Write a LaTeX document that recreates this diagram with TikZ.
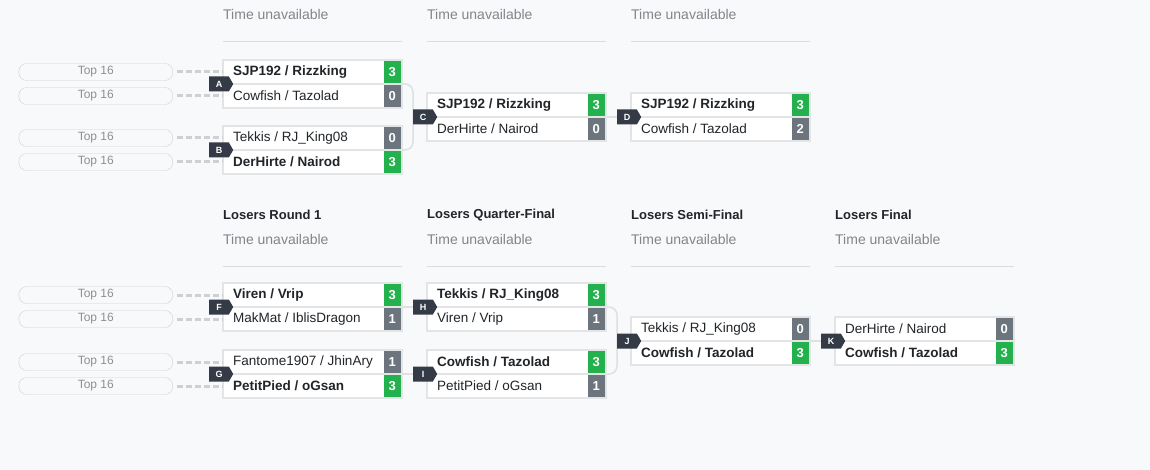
\documentclass[tikz,border=0pt]{standalone}
\usepackage{fontspec}
\setmainfont{Liberation Sans}
\usetikzlibrary{positioning,shapes.symbols,backgrounds}

\definecolor{bg}{RGB}{248,249,250}
\definecolor{ink}{RGB}{33,37,41}
\definecolor{wingreen}{RGB}{34,177,76}
\definecolor{losegray}{RGB}{108,117,125}
\definecolor{badgedark}{RGB}{52,58,70}
\definecolor{slotline}{RGB}{226,228,230}
\definecolor{linkgray}{RGB}{222,224,226}
\definecolor{seedgray}{RGB}{206,208,210}
\definecolor{pillline}{RGB}{206,208,212}
\definecolor{pilltext}{RGB}{140,144,148}
\definecolor{whengray}{RGB}{128,134,140}
\definecolor{ruleline}{RGB}{218,220,224}

\tikzset{
	slot/.style={draw=slotline, line width=1.5pt, fill=white, minimum width=179pt, minimum height=24pt, inner sep=0pt, outer sep=0pt, anchor=north west},
	teamlose/.style={text=ink, font=\fontsize{13.5}{16}\selectfont, inner sep=0pt},
	teamwin/.style={teamlose, font=\bfseries\fontsize{13.5}{16}\selectfont},
	scorewin/.style={fill=wingreen, text=white, font=\bfseries\fontsize{13}{16}\selectfont, minimum width=17pt, minimum height=22pt, inner sep=0pt},
	scorelose/.style={scorewin, fill=losegray},
	badge/.style={signal, signal to=east, signal pointer angle=120, fill=badgedark, text=white, font=\bfseries\fontsize{9}{9}\selectfont, minimum height=15pt, minimum width=24pt, inner sep=1pt},
	pill/.style={draw=pillline, fill=bg, rounded corners=8pt, minimum width=154pt, minimum height=17pt, inner sep=0pt, text=pilltext, font=\fontsize{12}{14}\selectfont},
	seed/.style={draw=seedgray, line width=3pt, dash pattern=on 6pt off 3pt, shorten <=4pt},
	link/.style={draw=linkgray, line width=1.5pt, rounded corners=8pt},
	round/.style={text=ink, font=\bfseries\fontsize{13}{16}\selectfont, anchor=west, inner sep=0pt},
	when/.style={text=whengray, font=\fontsize{14}{16}\selectfont, anchor=west, inner sep=0pt},
	rule/.style={draw=ruleline, line width=1pt}
}

% match: name, x, y, team 1, score 1, win/lose, team 2, score 2, win/lose
\newcommand{\duel}[9]{%
	\node[slot] (#1-top) at (#2,#3) {};
	\node[slot, below=0pt of #1-top] (#1-bot) {};
	\node[team#6, right=10pt of #1-top.west] (#1-tt) {#4};
	\node[team#9, right=10pt of #1-bot.west] (#1-bt) {#7};
	\node[score#6, left=1pt of #1-top.east] (#1-ts) {#5};
	\node[score#9, left=1pt of #1-bot.east] (#1-bs) {#8};
}
% two seeds in front of a first round match
\newcommand{\seeds}[1]{%
	\node[pill, left=50pt of #1-top] (#1-p1) {Top 16};
	\node[pill, left=50pt of #1-bot] (#1-p2) {Top 16};
	\draw[seed] (#1-p1) -- (#1-top);
	\draw[seed] (#1-p2) -- (#1-bot);
}

\begin{document}
\begin{tikzpicture}[x=1pt, y=-1pt]
	\useasboundingbox (0,0) rectangle (1150,470);
	\begin{pgfonlayer}{background}
		\fill[bg] (0,0) rectangle (1150,470);
	\end{pgfonlayer}

	% upper bracket headers
	\foreach \x/\n in {223/1, 427/2, 631/3} {
		\node[when] (wu\n) at (\x,15) {Time unavailable};
		\draw[rule] (\x,42) -- ++(179,0);
	}
	% lower bracket headers
	\node[round] (lr1) at (223,215) {Losers Round 1};
	\node[round] (lr2) at (427,215) {Losers Quarter-Final};
	\node[round] (lr3) at (631,215) {Losers Semi-Final};
	\node[round] (lr4) at (835,215) {Losers Final};
	\foreach \x/\n in {223/1, 427/2, 631/3, 835/4} {
		\node[when] (wl\n) at (\x,239) {Time unavailable};
		\draw[rule] (\x,266) -- ++(179,0);
	}

	\duel{A}{223}{60}{SJP192 / Rizzking}{3}{win}{Cowfish / Tazolad}{0}{lose}
	\duel{B}{223}{126}{Tekkis / RJ\_King08}{0}{lose}{DerHirte / Nairod}{3}{win}
	\duel{C}{427}{93}{SJP192 / Rizzking}{3}{win}{DerHirte / Nairod}{0}{lose}
	\duel{D}{631}{93}{SJP192 / Rizzking}{3}{win}{Cowfish / Tazolad}{2}{lose}
	\duel{F}{223}{283}{Viren / Vrip}{3}{win}{MakMat / IblisDragon}{1}{lose}
	\duel{G}{223}{350}{Fantome1907 / JhinAry}{1}{lose}{PetitPied / oGsan}{3}{win}
	\duel{H}{427}{283}{Tekkis / RJ\_King08}{3}{win}{Viren / Vrip}{1}{lose}
	\duel{I}{427}{350}{Cowfish / Tazolad}{3}{win}{PetitPied / oGsan}{1}{lose}
	\duel{J}{631}{317}{Tekkis / RJ\_King08}{0}{lose}{Cowfish / Tazolad}{3}{win}
	\duel{K}{835}{317}{DerHirte / Nairod}{0}{lose}{Cowfish / Tazolad}{3}{win}

	\seeds{A}
	\seeds{B}
	\seeds{F}
	\seeds{G}

	% match letters
	\foreach \m in {A,B,C,D,F,G,H,I,J,K}
		\node[badge, right=-14pt of \m-top.south west] (\m) {\m};

	\begin{pgfonlayer}{background}
		\draw[link] (A-top.south east) -| (C.west) |- (B-top.south east);	% A/B into C
		\draw[link] (C-top.south east) -- (D-top.south west);
		\draw[link] (F-top.south east) -- (H-top.south west);
		\draw[link] (G-top.south east) -- (I-top.south west);
		\draw[link] (H-top.south east) -| (J.west) |- (I-top.south east);	% H/I into J
		\draw[link] (J-top.south east) -- (K-top.south west);
	\end{pgfonlayer}
\end{tikzpicture}
\end{document}
